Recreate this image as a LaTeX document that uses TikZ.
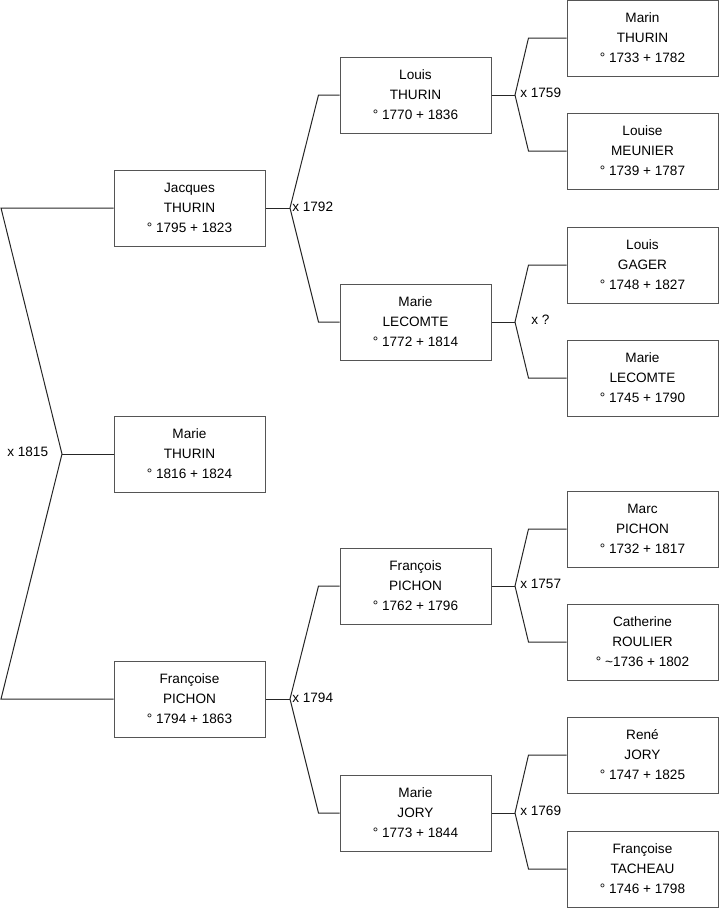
\documentclass[tikz,border=0pt]{standalone}
\usepackage{fontspec}
\setmainfont{Liberation Sans}
\usepackage{tikz}
\usetikzlibrary{calc}
\definecolor{edge}{HTML}{555555}

\begin{document}
\begin{tikzpicture}[x=0.75pt,y=-0.75pt,font=\fontsize{10.2}{15}\selectfont,
  pers/.style={draw=edge,fill=white,line width=0.75pt,minimum width=113.25pt,minimum height=57pt,align=center,inner sep=0pt},
  ln/.style={draw=black!85,line width=0.75pt},
  mar/.style={anchor=west,inner sep=0pt}]
\useasboundingbox (0,0) rectangle (719,908);
% generation 1
\node[pers] (jac) at (189.5,208) {Jacques\\THURIN\\° 1795 + 1823};
\node[pers] (mth) at (189.5,454) {Marie\\THURIN\\° 1816 + 1824};
\node[pers] (fra) at (189.5,699) {Françoise\\PICHON\\° 1794 + 1863};
% generation 2
\node[pers] (lou) at (415.5,95) {Louis\\THURIN\\° 1770 + 1836};
\node[pers] (mle) at (415.5,322) {Marie\\LECOMTE\\° 1772 + 1814};
\node[pers] (frp) at (415.5,586) {François\\PICHON\\° 1762 + 1796};
\node[pers] (mjo) at (415.5,813) {Marie\\JORY\\° 1773 + 1844};
% generation 3
\node[pers] (mat) at (642.5,38) {Marin\\THURIN\\° 1733 + 1782};
\node[pers] (lme) at (642.5,151) {Louise\\MEUNIER\\° 1739 + 1787};
\node[pers] (lga) at (642.5,265) {Louis\\GAGER\\° 1748 + 1827};
\node[pers] (mlc) at (642.5,378) {Marie\\LECOMTE\\° 1745 + 1790};
\node[pers] (map) at (642.5,529) {Marc\\PICHON\\° 1732 + 1817};
\node[pers] (cro) at (642.5,642) {Catherine\\ROULIER\\° \textasciitilde1736 + 1802};
\node[pers] (rjo) at (642.5,755) {René\\JORY\\° 1747 + 1825};
\node[pers] (fta) at (642.5,869) {Françoise\\TACHEAU\\° 1746 + 1798};
% root couple
\coordinate (r0) at (1,208);
\coordinate (r1) at (62,454);
\coordinate (r2) at (1,699);
\draw[ln] (jac.west) -- (r0) -- (r1) -- (r2) -- (fra.west);
\draw[ln] (r1) -- (mth.west);
\node[mar] (m0) at (7,452) {x 1815};
% parents
\coordinate (f1) at (290,208);
\coordinate (f2) at (290,699);
\draw[ln] (jac.east) -- (f1);
\draw[ln] (lou.west) -- ++(-21,0) -- (f1) -- ($(mle.west)+(-21,0)$) -- (mle.west);
\draw[ln] (fra.east) -- (f2);
\draw[ln] (frp.west) -- ++(-21,0) -- (f2) -- ($(mjo.west)+(-21,0)$) -- (mjo.west);
\node[mar] (m1) at (292,207) {x 1792};
\node[mar] (m2) at (292,698) {x 1794};
% grandparents
\coordinate (g1) at (515,95);
\coordinate (g2) at (515,322);
\coordinate (g3) at (515,586);
\coordinate (g4) at (515,813);
\draw[ln] (lou.east) -- (g1);
\draw[ln] (mat.west) -- ++(-38,0) -- (g1) -- ($(lme.west)+(-38,0)$) -- (lme.west);
\draw[ln] (mle.east) -- (g2);
\draw[ln] (lga.west) -- ++(-38,0) -- (g2) -- ($(mlc.west)+(-38,0)$) -- (mlc.west);
\draw[ln] (frp.east) -- (g3);
\draw[ln] (map.west) -- ++(-38,0) -- (g3) -- ($(cro.west)+(-38,0)$) -- (cro.west);
\draw[ln] (mjo.east) -- (g4);
\draw[ln] (rjo.west) -- ++(-38,0) -- (g4) -- ($(fta.west)+(-38,0)$) -- (fta.west);
\node[mar] (m3) at (520,93) {x 1759};
\node[mar] (m4) at (531,320) {x ?};
\node[mar] (m5) at (520,584) {x 1757};
\node[mar] (m6) at (520,811) {x 1769};
\end{tikzpicture}
\end{document}
